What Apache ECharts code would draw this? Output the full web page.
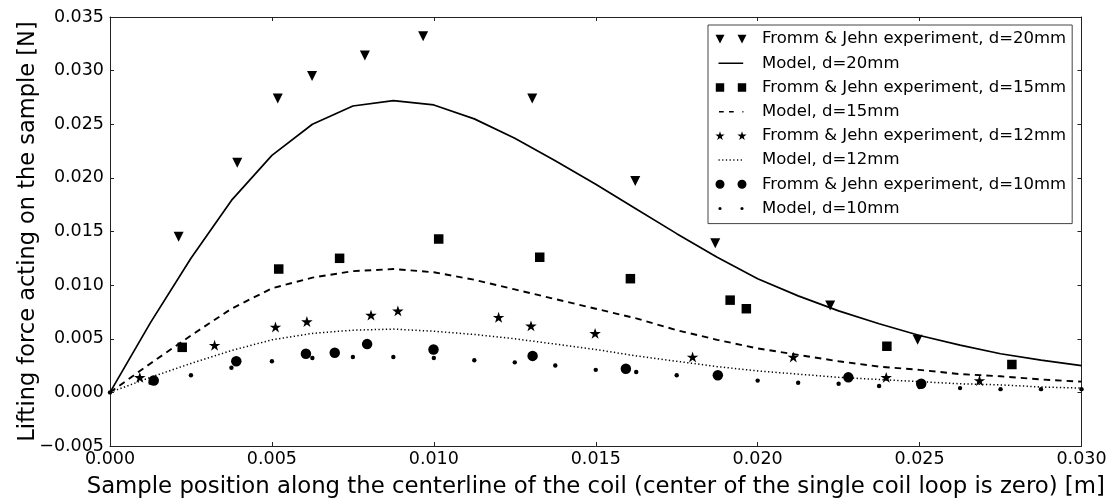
<!DOCTYPE html>
<html>
<head>
<meta charset="utf-8">
<script src="https://cdn.jsdelivr.net/npm/echarts@6/dist/echarts.min.js"></script>
<style>html,body{margin:0;padding:0;background:#fff}#c{width:1116px;height:504px}</style>
</head>
<body>
<div id="c"></div>
<script>
// ---- data ----
var xTicks = [0, 0.005, 0.01, 0.015, 0.02, 0.025, 0.03];
var yTicks = [-0.005, 0, 0.005, 0.01, 0.015, 0.02, 0.025, 0.03, 0.035];
var xModel = [0, 0.00125, 0.0025, 0.00375, 0.005, 0.00625, 0.0075, 0.00875, 0.01, 0.01125, 0.0125, 0.01375, 0.015,
              0.01625, 0.0175, 0.01875, 0.02, 0.02125, 0.0225, 0.02375, 0.025, 0.02625, 0.0275, 0.02875, 0.03];
var model20 = [0, 0.0065, 0.0125, 0.0179, 0.0221, 0.0250, 0.0267, 0.0272, 0.0268, 0.0255, 0.0237, 0.0216, 0.0194,
               0.0171, 0.0148, 0.0126, 0.0106, 0.0090, 0.0076, 0.0064, 0.0053, 0.0044, 0.0036, 0.0030, 0.0025];
var model15 = [0, 0.0027, 0.0053, 0.0078, 0.0097, 0.0107, 0.0113, 0.0115, 0.0112, 0.0105, 0.0096, 0.0087, 0.0078,
               0.0069, 0.0058, 0.0049, 0.0041, 0.0035, 0.0029, 0.0024, 0.0021, 0.0017, 0.0015, 0.0012, 0.0010];
var model12 = [0, 0.0014, 0.0027, 0.0039, 0.0049, 0.0055, 0.0058, 0.0059, 0.0057, 0.0054, 0.0050, 0.0045, 0.0040,
               0.0034, 0.0029, 0.0024, 0.0020, 0.0017, 0.0014, 0.0012, 0.0010, 0.0008, 0.0007, 0.0005, 0.0004];
var model10 = [0, 0.0009, 0.0016, 0.0023, 0.0029, 0.0032, 0.0033, 0.0033, 0.0032, 0.0030, 0.0028, 0.0025, 0.0021,
               0.0019, 0.0016, 0.0014, 0.0011, 0.0009, 0.0008, 0.0006, 0.0005, 0.0004, 0.0003, 0.0003, 0.0003];
var exp20x = [0.00212, 0.00393, 0.00518, 0.00624, 0.00787, 0.00967, 0.01304, 0.01622, 0.01869, 0.02224, 0.02494];
var exp20y = [0.0145, 0.0214, 0.0274, 0.0295, 0.0314, 0.0332, 0.0274, 0.0197, 0.0139, 0.0081, 0.0049];
var exp15x = [0.00223, 0.00521, 0.00709, 0.01015, 0.01327, 0.01607, 0.01915, 0.01965, 0.02399, 0.02785];
var exp15y = [0.0042, 0.0115, 0.0125, 0.0143, 0.0126, 0.0106, 0.0086, 0.0078, 0.0043, 0.0026];
var exp12x = [0.00092, 0.00323, 0.00511, 0.00608, 0.00806, 0.00889, 0.0120, 0.0130, 0.01498, 0.01799, 0.0211, 0.02397, 0.02685];
var exp12y = [0.0014, 0.0044, 0.0061, 0.0066, 0.0072, 0.0076, 0.0070, 0.0062, 0.0055, 0.0033, 0.0033, 0.0014, 0.0011];
var exp10x = [0.00135, 0.0039, 0.00605, 0.00694, 0.00794, 0.00999, 0.01305, 0.01593, 0.01877, 0.0228, 0.02505];
var exp10y = [0.0011, 0.0029, 0.0036, 0.0037, 0.0045, 0.0040, 0.0034, 0.0022, 0.0016, 0.0014, 0.0008];
var names = ['Fromm & Jehn experiment, d=20mm', 'Model, d=20mm',
             'Fromm & Jehn experiment, d=15mm', 'Model, d=15mm',
             'Fromm & Jehn experiment, d=12mm', 'Model, d=12mm',
             'Fromm & Jehn experiment, d=10mm', 'Model, d=10mm'];
var xTitle = 'Sample position along the centerline of the coil (center of the single coil loop is zero) [m]';
var yTitle = 'Lifting force acting on the sample [N]';

// ---- helpers ----
function zip(xs, ys) { return xs.map(function (x, i) { return [x, ys[i]]; }); }
function fmt(v) {
  var s = Math.abs(v).toFixed(3);
  return v < -1e-12 ? '\u2212' + s : s;
}
var FONT = 'DejaVu Sans';
var STAR = 'path://M100,0L122.45,69.1L195.1,69.1L136.33,111.8L158.78,180.9L100,138.2L41.22,180.9L63.67,111.8L4.9,69.1L77.55,69.1Z';
// legend icon paths in a 440x100 box
var CORNERS = 'M0,0L0.1,0L0,0.1Z M440,100L439.9,100L440,99.9Z ';
function tri(cx) { return 'M' + (cx - 45) + ',6L' + (cx + 45) + ',6L' + cx + ',94Z '; }
function sq(cx) { return 'M' + (cx - 42) + ',8L' + (cx + 42) + ',8L' + (cx + 42) + ',92L' + (cx - 42) + ',92Z '; }
function circ(cx, r) { return 'M' + (cx - r) + ',50A' + r + ',' + r + ' 0 1,0 ' + (cx + r) + ',50A' + r + ',' + r + ' 0 1,0 ' + (cx - r) + ',50Z '; }
function star(cx) {
  var p = '', R = 48, r = 18.3;
  for (var k = 0; k < 10; k++) {
    var a = (-90 + k * 36) * Math.PI / 180, rr = (k % 2 === 0) ? R : r;
    p += (k === 0 ? 'M' : 'L') + (cx + rr * Math.cos(a)).toFixed(2) + ',' + (52 + rr * Math.sin(a)).toFixed(2);
  }
  return p + 'Z ';
}
function seg(x0, x1) { return 'M' + x0 + ',42.5L' + x1 + ',42.5L' + x1 + ',57.5L' + x0 + ',57.5Z '; }
var dotted = '';
for (var dx = 55; dx < 305; dx += 37) dotted += seg(dx, dx + 12);
var icons = [
  'path://' + CORNERS + tri(70) + tri(290),
  'path://' + CORNERS + seg(55, 302),
  'path://' + CORNERS + sq(70) + sq(290),
  'path://' + CORNERS + seg(60, 107) + seg(160, 207) + seg(294, 304),
  'path://' + CORNERS + star(70) + star(290),
  'path://' + CORNERS + dotted,
  'path://' + CORNERS + circ(70, 45) + circ(290, 45),
  'path://' + CORNERS + circ(70, 16) + circ(290, 16)
];

var axisLineStyle = { color: '#222', width: 1 };
function xAxisCfg(pos, showLabel) {
  return {
    type: 'value', position: pos, min: 0, max: 0.03, interval: 0.005,
    axisLine: { show: true, onZero: false, lineStyle: axisLineStyle },
    axisTick: { show: true, inside: true, length: 4, lineStyle: axisLineStyle },
    axisLabel: { show: showLabel, formatter: fmt, fontFamily: FONT, fontSize: 17.5, color: '#000', margin: 4 },
    splitLine: { show: false },
    name: showLabel ? xTitle : '', nameLocation: 'middle', nameGap: 30, nameMoveOverlap: false,
    nameTextStyle: { fontFamily: FONT, fontSize: 22.8, color: '#000' }
  };
}
function yAxisCfg(pos, showLabel) {
  return {
    type: 'value', position: pos, min: -0.005, max: 0.035, interval: 0.005,
    axisLine: { show: true, onZero: false, lineStyle: axisLineStyle },
    axisTick: { show: true, inside: true, length: 4, lineStyle: axisLineStyle },
    axisLabel: { show: showLabel, formatter: fmt, fontFamily: FONT, fontSize: 17.5, color: '#000', margin: 6 },
    splitLine: { show: false },
    name: showLabel ? yTitle : '', nameLocation: 'middle', nameGap: 70, nameMoveOverlap: false,
    nameTextStyle: { fontFamily: FONT, fontSize: 22.5, color: '#000' }
  };
}

var series = [
  { name: names[0], type: 'scatter', data: zip(exp20x, exp20y), symbol: 'triangle', symbolRotate: 180, symbolSize: [10, 10] },
  { name: names[1], type: 'line', data: zip(xModel, model20), symbol: 'none', lineStyle: { width: 1.7, color: '#000' } },
  { name: names[2], type: 'scatter', data: zip(exp15x, exp15y), symbol: 'rect', symbolSize: 9.5 },
  { name: names[3], type: 'line', data: zip(xModel, model15), symbol: 'none', lineStyle: { width: 1.9, color: '#000', type: [6.5, 5] } },
  { name: names[4], type: 'scatter', data: zip(exp12x, exp12y), symbol: STAR, symbolKeepAspect: true, symbolSize: 11.5 },
  { name: names[5], type: 'line', data: zip(xModel, model12), symbol: 'none', lineStyle: { width: 1.5, color: '#000', type: [1.3, 2.4] } },
  { name: names[6], type: 'scatter', data: zip(exp10x, exp10y), symbol: 'circle', symbolSize: 10.5 },
  { name: names[7], type: 'scatter', data: zip(xModel, model10), symbol: 'circle', symbolSize: 4.4 }
];
series.forEach(function (s) {
  s.itemStyle = { color: '#000', opacity: 1 };
  s.silent = true;
  s.animation = false;
  s.xAxisIndex = 0; s.yAxisIndex = 0;
});

var chart = echarts.init(document.getElementById('c'), null, { renderer: 'canvas' });
chart.setOption({
  backgroundColor: '#fff',
  animation: false,
  textStyle: { fontFamily: FONT },
  grid: { left: 110, right: 34.5, top: 17, bottom: 54, containLabel: false },
  xAxis: [xAxisCfg('bottom', true), xAxisCfg('top', false)],
  yAxis: [yAxisCfg('left', true), yAxisCfg('right', false)],
  legend: {
    orient: 'vertical', left: 708, top: 25,
    padding: [5, 6, 6, 5],
    itemWidth: 44, itemHeight: 10, itemGap: 6.0,
    borderColor: '#444', borderWidth: 1, backgroundColor: '#fff',
    selectedMode: false,
    itemStyle: { color: '#000', borderWidth: 0, opacity: 1 },
    textStyle: { fontFamily: FONT, fontSize: 16.5, lineHeight: 18.2, color: '#000' },
    data: names.map(function (n, i) { return { name: n, icon: icons[i] }; })
  },
  series: series
});
</script>
</body>
</html>
